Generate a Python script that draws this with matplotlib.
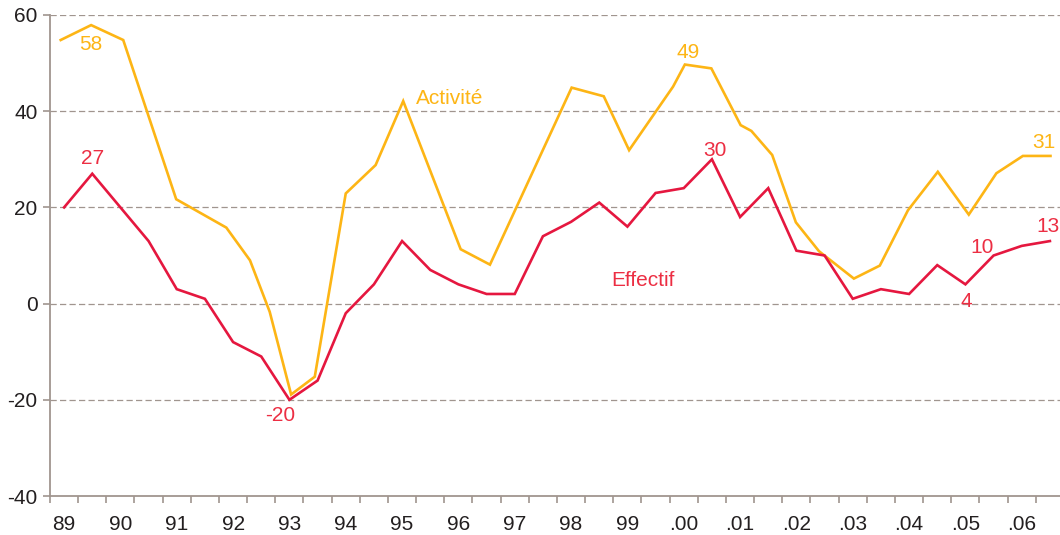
import numpy as np
import matplotlib.pyplot as plt
from matplotlib.ticker import FixedLocator, NullFormatter

plt.rcParams['font.family'] = ['Liberation Sans', 'DejaVu Sans']
plt.rcParams['axes.unicode_minus'] = False

# Effectif : one point per half-year
effectif_x = np.arange(1989.25, 2007.0, 0.5)
effectif = [20, 27, 20, 13, 3, 1, -8, -11, -20, -16, -2, 4,
            13, 7, 4, 2, 2, 14, 17, 21, 16, 23, 24, 30,
            18, 24, 11, 10, 1, 3, 2, 8, 4, 10, 12, 13]

# Activite : vertices
activite_x = [1989.19, 1989.73, 1990.30, 1991.24, 1992.13, 1992.55, 1992.90,
              1993.28, 1993.70, 1994.25, 1994.78, 1995.27, 1996.29, 1996.81,
              1998.26, 1998.83, 1999.28, 2000.06, 2000.27, 2000.74, 2001.26,
              2001.45, 2001.82, 2002.24, 2002.65, 2003.27, 2003.73, 2004.23,
              2004.76, 2005.31, 2005.80, 2006.27, 2006.76]
activite = [54.8, 57.9, 54.8, 21.7, 15.8, 9.0, -1.7,
            -18.9, -15.2, 22.9, 28.8, 42.1, 11.3, 8.1,
            44.9, 43.1, 31.9, 45.1, 49.7, 48.9, 37.1,
            35.9, 30.9, 16.9, 10.9, 5.2, 7.9, 19.4,
            27.4, 18.5, 27.1, 30.7, 30.7]

years = list(range(1989, 2007))
year_labels = ['89', '90', '91', '92', '93', '94', '95', '96', '97', '98', '99',
               '.00', '.01', '.02', '.03', '.04', '.05', '.06']

yellow = '#FDB515'
red = '#E5173F'
red_txt = '#EC2E43'
grey = '#A0958F'
fs = 15

fig = plt.figure(figsize=(10.6, 5.35), dpi=100)
ax = fig.add_axes([50/1060, 1 - 496/535, 1014/1060, 481/535])

ax.plot(activite_x, activite, color=yellow, lw=1.9, solid_joinstyle='miter', zorder=3)
ax.plot(effectif_x, effectif, color=red, lw=1.9, solid_joinstyle='miter', zorder=4)

ax.set_xlim(1989, 2007)
ax.set_ylim(-40, 60)

for y in [-20, 0, 20, 40, 60]:
    ax.axhline(y, color=grey, lw=0.9, ls=(0, (5, 2.6)), zorder=1)

for s in ['top', 'right']:
    ax.spines[s].set_visible(False)
for s in ['left', 'bottom']:
    ax.spines[s].set_color(grey)
    ax.spines[s].set_linewidth(1.3)

ax.set_yticks([-40, -20, 0, 20, 40, 60])
ax.tick_params(axis='y', colors=grey, length=5, width=1.2, pad=4, labelsize=fs, labelcolor='#231F20')

# half-year tick marks, labels centred on first half of each year
ax.xaxis.set_major_locator(FixedLocator(np.arange(1989, 2007.01, 0.5)))
ax.xaxis.set_major_formatter(NullFormatter())
ax.xaxis.set_minor_locator(FixedLocator([y + 0.25 for y in years]))
ax.set_xticklabels(year_labels, minor=True)
ax.tick_params(axis='x', which='major', colors=grey, length=5, width=1.2)
ax.tick_params(axis='x', which='minor', length=0, pad=13.5, labelsize=fs, labelcolor='#231F20')

# annotations
ax.text(1989.73, 53.8, '58', color=yellow, fontsize=fs, ha='center', va='center')
ax.text(2000.33, 52.2, '49', color=yellow, fontsize=fs, ha='center', va='center')
ax.text(2006.65, 33.5, '31', color=yellow, fontsize=fs, ha='center', va='center')
ax.text(1995.50, 42.6, 'Activité', color=yellow, fontsize=fs, ha='left', va='center')

ax.text(1989.75, 30.2, '27', color=red_txt, fontsize=fs, ha='center', va='center')
ax.text(1993.08, -23.2, '-20', color=red_txt, fontsize=fs, ha='center', va='center')
ax.text(2000.80, 31.9, '30', color=red_txt, fontsize=fs, ha='center', va='center')
ax.text(2005.26, 0.4, '4', color=red_txt, fontsize=fs, ha='center', va='center')
ax.text(2005.55, 11.7, '10', color=red_txt, fontsize=fs, ha='center', va='center')
ax.text(2006.72, 16.0, '13', color=red_txt, fontsize=fs, ha='center', va='center')
ax.text(1998.97, 4.9, 'Effectif', color=red_txt, fontsize=fs, ha='left', va='center')

fig.savefig('out.png', dpi=100)
